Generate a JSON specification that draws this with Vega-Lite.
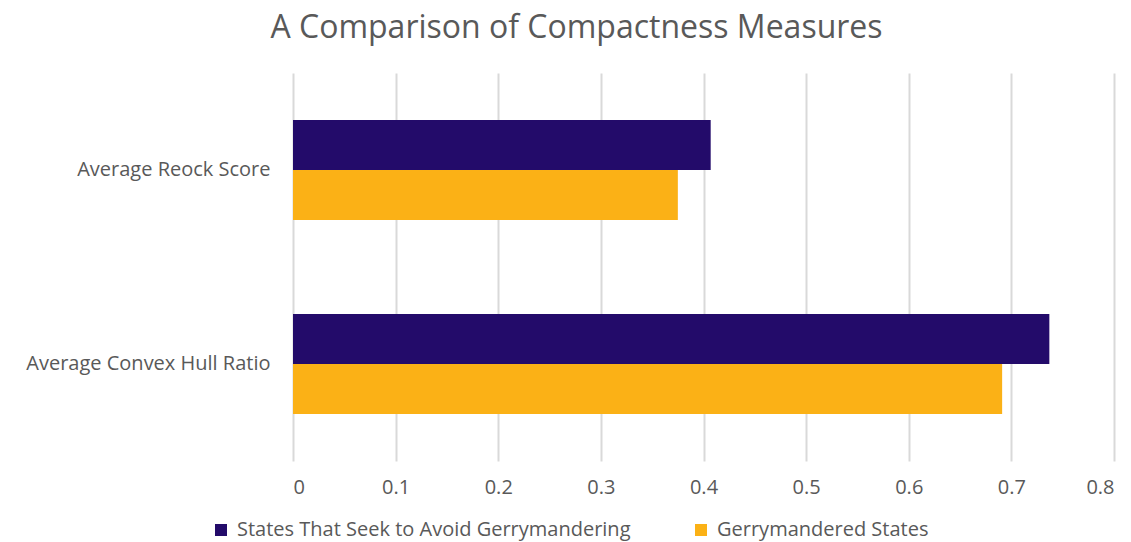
{
  "$schema": "https://vega.github.io/schema/vega-lite/v6.json",
  "autosize": "none",
  "width": 821,
  "height": 388,
  "padding": {"left": 293, "top": 73, "right": 17, "bottom": 81},
  "background": "white",
  "title": {
    "text": "A Comparison of Compactness Measures",
    "font": "Open Sans",
    "fontSize": 32,
    "fontWeight": "normal",
    "color": "#595959",
    "anchor": "middle",
    "frame": "group",
    "dx": -127,
    "offset": 28
  },
  "data": {
    "values": [
      {"measure": "Average Reock Score", "series": "States That Seek to Avoid Gerrymandering", "value": 0.407},
      {"measure": "Average Reock Score", "series": "Gerrymandered States", "value": 0.375},
      {"measure": "Average Convex Hull Ratio", "series": "States That Seek to Avoid Gerrymandering", "value": 0.737},
      {"measure": "Average Convex Hull Ratio", "series": "Gerrymandered States", "value": 0.691}
    ]
  },
  "mark": {"type": "bar"},
  "encoding": {
    "y": {
      "field": "measure",
      "type": "nominal",
      "sort": ["Average Reock Score", "Average Convex Hull Ratio"],
      "scale": {"paddingInner": 0.485, "paddingOuter": 0.2425},
      "axis": {
        "title": null,
        "domain": false,
        "ticks": false,
        "labelFont": "Open Sans",
        "labelFontSize": 20,
        "labelColor": "#595959",
        "labelPadding": 23,
        "labelLimit": 400
      }
    },
    "yOffset": {
      "field": "series",
      "type": "nominal",
      "sort": ["States That Seek to Avoid Gerrymandering", "Gerrymandered States"],
      "scale": {"paddingInner": 0, "paddingOuter": 0}
    },
    "x": {
      "field": "value",
      "type": "quantitative",
      "scale": {"domain": [0, 0.8], "nice": false},
      "axis": {
        "title": null,
        "values": [0, 0.1, 0.2, 0.3, 0.4, 0.5, 0.6, 0.7, 0.8],
        "format": "~g",
        "domain": false,
        "ticks": false,
        "grid": true,
        "gridColor": "#d9d9d9",
        "gridWidth": 2,
        "labelFont": "Open Sans",
        "labelFontSize": 20,
        "labelColor": "#595959",
        "labelPadding": 16
      }
    },
    "color": {
      "field": "series",
      "type": "nominal",
      "sort": ["States That Seek to Avoid Gerrymandering", "Gerrymandered States"],
      "scale": {
        "domain": ["States That Seek to Avoid Gerrymandering", "Gerrymandered States"],
        "range": ["#230b6a", "#fbb116"]
      },
      "legend": {
        "title": null,
        "orient": "none",
        "direction": "horizontal",
        "legendX": -82,
        "legendY": 447,
        "symbolType": "square",
        "symbolSize": 144,
        "symbolStrokeWidth": 0,
        "symbolOpacity": 1,
        "labelFont": "Open Sans",
        "labelFontSize": 20,
        "labelColor": "#595959",
        "labelOffset": 6,
        "labelLimit": 600,
        "columnPadding": 60
      }
    }
  },
  "config": {"view": {"stroke": null}}
}
